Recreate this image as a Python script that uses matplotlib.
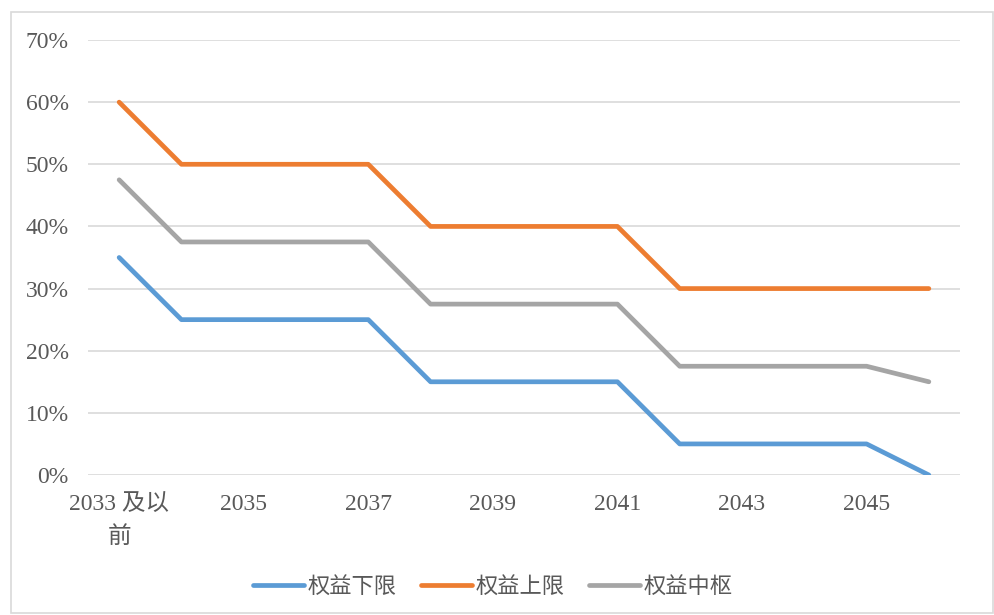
import matplotlib
matplotlib.use("Agg")
import matplotlib.pyplot as plt
from matplotlib.patches import Rectangle
from matplotlib.ticker import FuncFormatter

plt.rcParams['font.family'] = ['Liberation Serif', 'Noto Sans CJK SC', 'DejaVu Sans']

years = ["2033 及以\n前", "2034", "2035", "2036", "2037", "2038", "2039",
         "2040", "2041", "2042", "2043", "2044", "2045", "2046"]
lower = [35, 25, 25, 25, 25, 15, 15, 15, 15, 5, 5, 5, 5, 0]
upper = [60, 50, 50, 50, 50, 40, 40, 40, 40, 30, 30, 30, 30, 30]
middle = [47.5, 37.5, 37.5, 37.5, 37.5, 27.5, 27.5, 27.5, 27.5,
          17.5, 17.5, 17.5, 17.5, 15]

txt = '#595959'

fig = plt.figure(figsize=(9.95, 6.15), dpi=100)
ax = fig.add_axes([88/995, 1 - 475/615, (960 - 88)/995, (475 - 40)/615])

x = list(range(len(years)))
ax.plot(x, lower, color='#5B9BD5', lw=3.4, label='权益下限', solid_capstyle='round')
ax.plot(x, upper, color='#ED7D31', lw=3.4, label='权益上限', solid_capstyle='round')
ax.plot(x, middle, color='#A5A5A5', lw=3.4, label='权益中枢', solid_capstyle='round')

ax.set_xlim(-0.5, len(years) - 0.5)
ax.set_ylim(0, 70)
ax.set_yticks(range(0, 71, 10))
ax.yaxis.set_major_formatter(FuncFormatter(lambda v, p: '%d%%' % v))
ax.set_xticks(x[::2])
ax.set_xticklabels(years[::2], linespacing=1.65)
ax.grid(axis='y', color='#D9D9D9', lw=1.2)
ax.set_axisbelow(True)
for s in ax.spines.values():
    s.set_visible(False)
ax.tick_params(length=0, labelsize=17, colors=txt)
ax.tick_params(axis='x', pad=14)
ax.tick_params(axis='y', pad=14)

leg = fig.legend(loc='center', bbox_to_anchor=(493/995, 1 - 587/615), ncol=3,
                 frameon=False, fontsize=16, handlelength=2.3, columnspacing=1.1,
                 handletextpad=0.15)
for t in leg.get_texts():
    t.set_color(txt)

fig.patches.append(Rectangle((11/995, 2/615), 982/995, 601/615,
                             transform=fig.transFigure, fill=False,
                             edgecolor='#D9D9D9', lw=1.2))

fig.savefig('out.png', dpi=100)
